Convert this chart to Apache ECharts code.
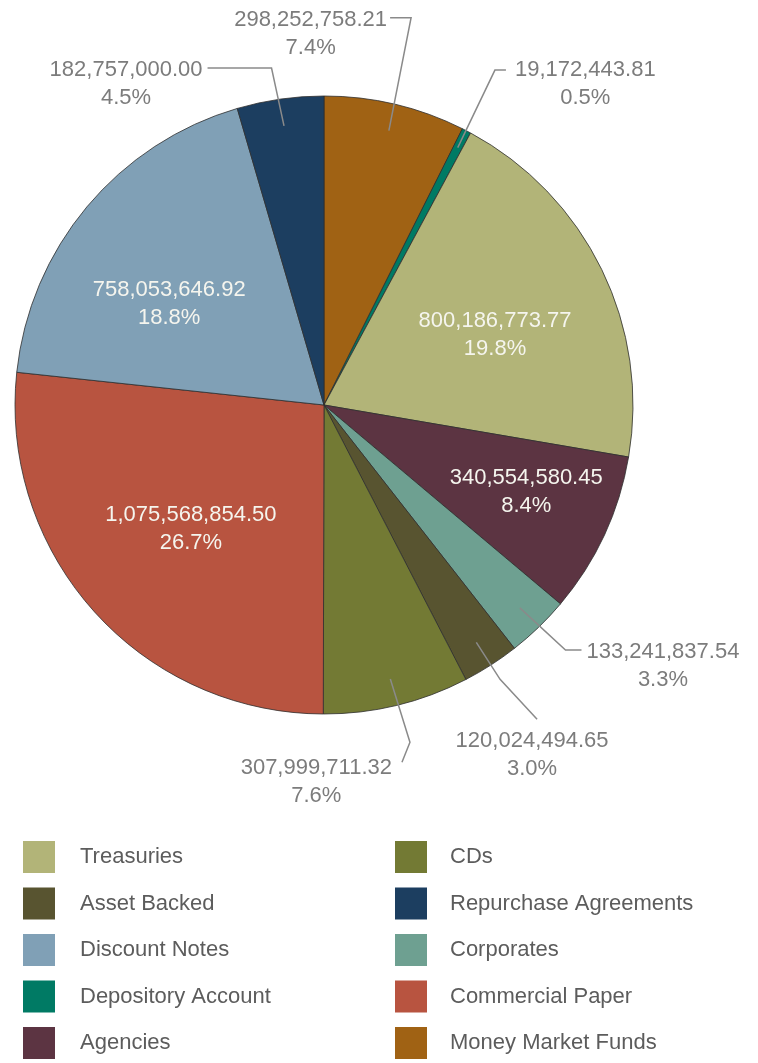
<!DOCTYPE html>
<html>
<head>
<meta charset="utf-8">
<script src="https://cdn.jsdelivr.net/npm/echarts@6/dist/echarts.min.js"></script>
<style>
html,body{margin:0;padding:0;background:#fff;}
#chart{width:758px;height:1063px;}
</style>
</head>
<body>
<div id="chart"></div>
<script>
// ---- data ----
const categories = ['Money Market Funds', 'Depository Account', 'Treasuries', 'Agencies', 'Corporates',
  'Asset Backed', 'CDs', 'Commercial Paper', 'Discount Notes', 'Repurchase Agreements'];
const values = [298252758.21, 19172443.81, 800186773.77, 340554580.45, 133241837.54,
  120024494.65, 307999711.32, 1075568854.50, 758053646.92, 182757000.00];
const legendLeft = ['Treasuries', 'Asset Backed', 'Discount Notes', 'Depository Account', 'Agencies'];
const legendRight = ['CDs', 'Repurchase Agreements', 'Corporates', 'Commercial Paper', 'Money Market Funds'];

// ---- styles ----
const colorMap = {
  'Money Market Funds': '#a06214',
  'Depository Account': '#007a64',
  'Treasuries': '#b2b478',
  'Agencies': '#5c3442',
  'Corporates': '#6ea091',
  'Asset Backed': '#585430',
  'CDs': '#737a34',
  'Commercial Paper': '#b85440',
  'Discount Notes': '#80a0b6',
  'Repurchase Agreements': '#1c3e60'
};
const insideNames = ['Treasuries', 'Agencies', 'Commercial Paper', 'Discount Notes'];
const FONT = '"Liberation Sans", Arial, Helvetica, sans-serif';
const CX = 324, CY = 405, R = 309;

// label placement (layout only)
const insideSpec = {
  'Treasuries': {da: 3.6, r: 185},
  'Agencies': {da: -1.7, r: 220},
  'Commercial Paper': {da: -1.1, r: 182},
  'Discount Notes': {da: -6.7, r: 185}
};
const outsideSpec = {
  'Money Market Funds': {r0: 282, da1: -0.63, r1: 397, h: [-21, 0], lx: -3, ly: -12, align: 'right'},
  'Depository Account': {r0: 290, da1: -0.42, r1: 376, h: [11, 0], lx: 9, ly: -14, align: 'left'},
  'Corporates': {r0: 282, da1: -0.6, r1: 344, h: [16, 0], lx: 5, ly: -12, align: 'left'},
  'Asset Backed': {r0: 282, da1: 0, r1: 326, h: [37, 40], lx: -5, ly: 8, align: 'center'},
  'CDs': {r0: 282, da1: -0.7, r1: 348, h: [-8, 20], lx: -10, ly: -8, align: 'right'},
  'Repurchase Agreements': {r0: 282, da1: -0.7, r1: 341, h: [-64, 0], lx: -5, ly: -12, align: 'right'}
};

const total = values.reduce((a, b) => a + b, 0);
const midAngles = [];
(function () {
  let acc = 0;
  values.forEach(v => { midAngles.push((acc + v / 2) / total * 360); acc += v; });
})();

function fmtNum(v) {
  const parts = v.toFixed(2).split('.');
  parts[0] = parts[0].replace(/\B(?=(\d{3})+(?!\d))/g, ',');
  return parts.join('.');
}
function pt(angDeg, r) {
  const rad = angDeg * Math.PI / 180;
  return [CX + r * Math.sin(rad), CY - r * Math.cos(rad)];
}
function labelText(p) {
  const pct = (p.value / total * 100).toFixed(1) + '%';
  return '{v|' + fmtNum(p.value) + '}\n{v|' + pct + '}';
}

const mainData = categories.map((name, i) => {
  const inside = insideNames.indexOf(name) >= 0;
  return {
    name: name,
    value: values[i],
    itemStyle: {color: colorMap[name]},
    label: {show: inside},
    labelLine: {show: false}
  };
});
const overlayData = categories.map((name, i) => {
  const inside = insideNames.indexOf(name) >= 0;
  return {
    name: name,
    value: values[i],
    label: {show: !inside},
    labelLine: {show: !inside}
  };
});

const chart = echarts.init(document.getElementById('chart'), null, {renderer: 'canvas'});
const legendBase = {
  orient: 'vertical',
  top: 841,
  padding: 0,
  itemWidth: 32,
  itemHeight: 32,
  itemGap: 14.5,
  icon: 'rect',
  selectedMode: false,
  itemStyle: {borderWidth: 0}
};
const richStyle = {v: {align: 'center', fontSize: 22, lineHeight: 28, fontFamily: FONT}};
chart.setOption({
  backgroundColor: '#ffffff',
  animation: false,
  legend: [
    Object.assign({}, legendBase, {
      left: 23,
      data: legendLeft.map(n => ({name: n, itemStyle: {color: colorMap[n], borderWidth: 0}})),
      textStyle: {fontSize: 22, color: '#5c5c5c', fontFamily: FONT, padding: [0, 0, 0, 20]}
    }),
    Object.assign({}, legendBase, {
      left: 395,
      data: legendRight.map(n => ({name: n, itemStyle: {color: colorMap[n], borderWidth: 0}})),
      textStyle: {fontSize: 22, color: '#5c5c5c', fontFamily: FONT, padding: [0, 0, 0, 18]}
    })
  ],
  series: [{
    type: 'pie',
    name: 'main',
    z: 2,
    center: [CX, CY],
    radius: [0, R],
    startAngle: 90,
    clockwise: true,
    silent: true,
    avoidLabelOverlap: false,
    itemStyle: {borderColor: '#2e2e2e', borderWidth: 0.8},
    emphasis: {disabled: true},
    label: {
      show: true,
      position: 'inside',
      color: '#f5f5ee',
      fontFamily: FONT,
      fontSize: 22,
      lineHeight: 28,
      formatter: labelText,
      rich: richStyle
    },
    labelLine: {show: false},
    labelLayout: function (params) {
      const i = params.dataIndex;
      const s = insideSpec[categories[i]];
      if (!s) return {};
      const p = pt(midAngles[i] + s.da, s.r);
      return {x: p[0], y: p[1], align: 'center', verticalAlign: 'middle'};
    },
    data: mainData
  }, {
    type: 'pie',
    name: 'labels',
    z: 5,
    center: [CX, CY],
    radius: [0, R],
    startAngle: 90,
    clockwise: true,
    silent: true,
    avoidLabelOverlap: false,
    itemStyle: {color: 'rgba(0,0,0,0)', borderWidth: 0},
    emphasis: {disabled: true},
    label: {
      show: true,
      position: 'outside',
      color: '#7c7c7c',
      fontFamily: FONT,
      fontSize: 22,
      lineHeight: 28,
      formatter: labelText,
      rich: richStyle
    },
    labelLine: {show: true, lineStyle: {color: '#8a8a8a', width: 1.5}},
    labelLayout: function (params) {
      const i = params.dataIndex;
      const s = outsideSpec[categories[i]];
      if (!s) return {};
      const a = midAngles[i];
      const p0 = pt(a, s.r0);
      const p1 = pt(a + s.da1, s.r1);
      const p2 = [p1[0] + s.h[0], p1[1] + s.h[1]];
      return {
        x: p2[0] + s.lx,
        y: p2[1] + s.ly,
        align: s.align,
        verticalAlign: 'top',
        labelLinePoints: [p0, p1, p2]
      };
    },
    data: overlayData
  }]
});
</script>
</body>
</html>
